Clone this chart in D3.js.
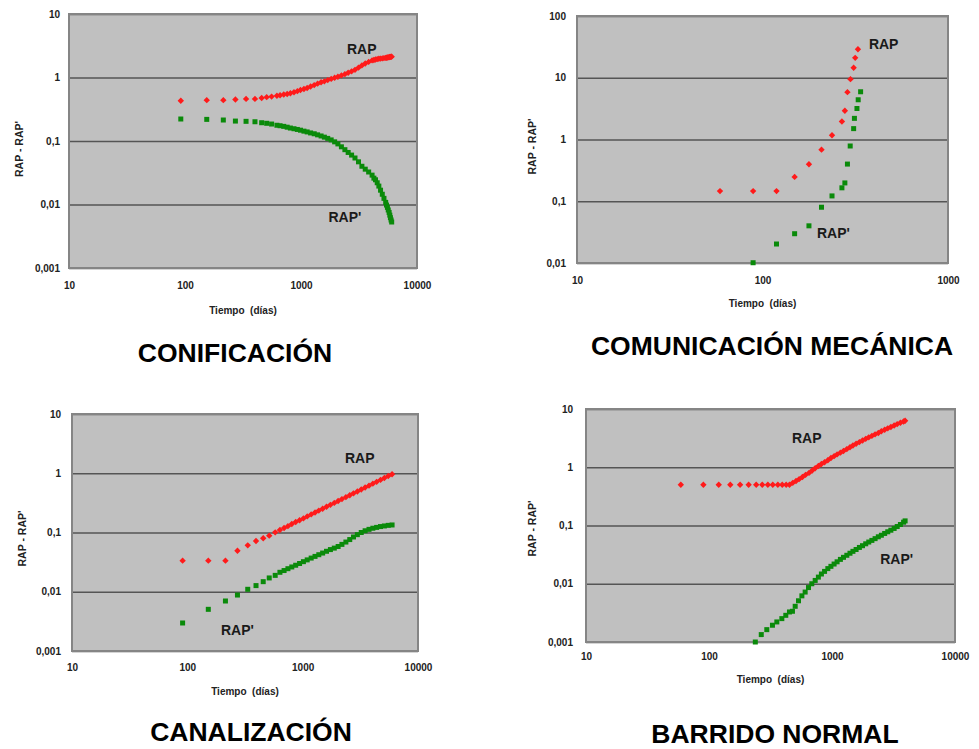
<!DOCTYPE html>
<html>
<head>
<meta charset="utf-8">
<script src="https://cdn.jsdelivr.net/npm/d3@7"></script>
<style>
  body { margin: 0; background: #ffffff; }
  svg { display: block; font-family: "Liberation Sans", Arial, Helvetica, sans-serif; }
</style>
</head>
<body>
<svg id="chart" width="979" height="749"></svg>
<script>
// ---- Axis ticks ----
const xTicksWide = [10, 100, 1000, 10000];
const xTicksNarrow = [10, 100, 1000];
const xTickLabelsWide = ["10", "100", "1000", "10000"];
const xTickLabelsNarrow = ["10", "100", "1000"];
const yTicksLow = [0.001, 0.01, 0.1, 1, 10];
const yTickLabelsLow = ["0,001", "0,01", "0,1", "1", "10"];
const yTicksHigh = [0.01, 0.1, 1, 10, 100];
const yTickLabelsHigh = ["0,01", "0,1", "1", "10", "100"];

const panelTitles = ["CONIFICACIÓN", "COMUNICACIÓN MECÁNICA", "CANALIZACIÓN", "BARRIDO NORMAL"];
const xAxisTitle = "Tiempo  (días)";
const yAxisTitle = "RAP - RAP'";
const seriesNames = ["RAP", "RAP'"];

// ---- Conificación ----
const conifTime = [92, 154, 214, 272, 336, 401, 458, 506, 558,
  620, 660, 710, 760, 810, 870, 930, 990, 1060, 1130,
  1210, 1300, 1390, 1490, 1590, 1700, 1820, 1950, 2080, 2230,
  2390, 2550, 2730, 2920, 3130, 3350, 3580, 3830,
  4100, 4250, 4390, 4540, 4690, 4850, 5020, 5190, 5370, 5460,
  5560, 5650, 5750, 5830, 5900, 5980, 6050];
const conifRap = [0.43, 0.44, 0.44, 0.45, 0.46, 0.46, 0.475, 0.49, 0.50,
  0.515, 0.525, 0.54, 0.55, 0.565, 0.585, 0.61, 0.635, 0.66, 0.685,
  0.72, 0.76, 0.80, 0.84, 0.87, 0.91, 0.95, 0.99, 1.03, 1.08,
  1.13, 1.19, 1.25, 1.32, 1.43, 1.55, 1.66, 1.76,
  1.86, 1.89, 1.92, 1.95, 1.97, 1.985, 2.00, 2.02, 2.04, 2.05,
  2.065, 2.075, 2.09, 2.10, 2.11, 2.12, 2.13];
const conifRapPrime = [0.222, 0.219, 0.214, 0.206, 0.204, 0.201, 0.194, 0.19, 0.185,
  0.177, 0.174, 0.170, 0.165, 0.160, 0.156, 0.152, 0.148, 0.143, 0.139,
  0.134, 0.130, 0.125, 0.120, 0.115, 0.110, 0.104, 0.097, 0.090, 0.081,
  0.073, 0.066, 0.060, 0.054, 0.047, 0.040, 0.036, 0.0325,
  0.029, 0.026, 0.0245, 0.022, 0.0195, 0.0168, 0.0145, 0.0125, 0.0108, 0.0098,
  0.0090, 0.0082, 0.0075, 0.0068, 0.0062, 0.0057, 0.0053];

// ---- Comunicación mecánica ----
const mecRapTime = [59, 89, 119, 149, 178, 208, 237, 268, 278, 287, 298, 310, 316, 327];
const mecRap = [0.146, 0.146, 0.146, 0.248, 0.397, 0.685, 1.17, 1.96, 2.92, 5.85, 9.5, 14.5, 21, 29];
const mecPrimeTime = [89, 119, 149, 178, 208, 237, 268, 278, 287, 297, 310, 313, 323, 328, 338];
const mecRapPrime = [0.0101, 0.0203, 0.0298, 0.040, 0.080, 0.122, 0.165, 0.198, 0.40, 0.785, 1.50, 2.20, 3.18, 4.40, 5.93];

// ---- Canalización ----
const canalTime = [91, 152, 214, 272, 334, 394, 455, 513, 578,
  635, 690, 745, 805, 870, 940, 1015, 1095, 1185, 1280,
  1380, 1490, 1610, 1740, 1880, 2030, 2190, 2370, 2560, 2760,
  2980, 3220, 3480, 3760, 4060, 4380, 4730, 5110, 5520, 5960];
const canalRap = [0.0335, 0.0335, 0.0335, 0.0493, 0.0607, 0.072, 0.0798, 0.0885, 0.1007,
  0.110, 0.119, 0.128, 0.139, 0.150, 0.161, 0.173, 0.187, 0.202, 0.217,
  0.234, 0.252, 0.272, 0.293, 0.316, 0.340, 0.366, 0.395, 0.426, 0.458,
  0.493, 0.532, 0.574, 0.618, 0.667, 0.716, 0.773, 0.832, 0.897, 0.96];
const canalRapPrime = [0.00297, 0.00505, 0.00698, 0.0088, 0.011, 0.0127, 0.0148, 0.0171, 0.0189,
  0.0213, 0.0228, 0.0245, 0.0262, 0.0280, 0.0300, 0.0322, 0.0345, 0.0370, 0.0395,
  0.0422, 0.0450, 0.0482, 0.0515, 0.0545, 0.058, 0.063, 0.069, 0.076, 0.084,
  0.092, 0.100, 0.107, 0.113, 0.118, 0.122, 0.126, 0.129, 0.132, 0.134];

// ---- Barrido normal ----
const barrRapTime = [59, 90, 120, 149, 179, 210, 242, 271, 301, 330, 363, 394, 424, 451,
  480, 510, 540, 575, 610, 650, 690, 730, 775, 820,
  870, 925, 980, 1040, 1100, 1170, 1240, 1320, 1400, 1480,
  1570, 1670, 1770, 1880, 1990, 2110, 2240, 2380, 2520, 2680,
  2840, 3010, 3200, 3390, 3600, 3820, 3930];
const barrRap = [0.5, 0.5, 0.5, 0.5, 0.5, 0.5, 0.5, 0.5, 0.5, 0.5, 0.5, 0.5, 0.5, 0.5,
  0.54, 0.58, 0.625, 0.68, 0.74, 0.80, 0.88, 0.96, 1.05, 1.14,
  1.22, 1.32, 1.44, 1.55, 1.66, 1.78, 1.90, 2.05, 2.20, 2.36,
  2.53, 2.70, 2.88, 3.07, 3.26, 3.45, 3.67, 3.88, 4.15, 4.40,
  4.65, 4.92, 5.20, 5.50, 5.80, 6.10, 6.30];
const barrPrimeTime = [238, 266, 295, 328, 356, 391, 421, 451, 477, 502, 534, 569, 605, 644,
  685, 730, 775, 820, 870, 925, 980, 1040, 1100, 1170,
  1240, 1320, 1400, 1480, 1570, 1670, 1770, 1880, 1990, 2110,
  2240, 2380, 2520, 2680, 2840, 3010, 3200, 3390, 3600, 3820, 3930];
const barrRapPrime = [0.001, 0.00134, 0.00163, 0.00194, 0.00221, 0.00252, 0.00287, 0.00328, 0.00337, 0.0041, 0.0051, 0.0062, 0.0072, 0.0086,
  0.0100, 0.0114, 0.0130, 0.0147, 0.0163, 0.0182, 0.0199, 0.0218, 0.0238, 0.0262,
  0.0284, 0.0308, 0.0334, 0.0360, 0.0387, 0.0420, 0.0450, 0.0485, 0.0520, 0.0555,
  0.0595, 0.0640, 0.0680, 0.0730, 0.0780, 0.0830, 0.0890, 0.0960, 0.104, 0.114, 0.120];

// Series label anchors, in data units [time, value]
const conifLabels = [[3336, 2.78], [2393, 0.0063]];
const mecLabels = [[450, 35.7], [241, 0.0305]];
const canalLabels = [[3126, 1.79], [272, 0.00226]];
const barrLabels = [[623, 3.21], [3358, 0.0264]];

// ---- Layout of the four panels ----
const panels = [
  { box: { left: 69, right: 417, top: 14, bottom: 268 }, xd: [10, 10000], yd: [0.001, 10],
    xt: xTicksWide, xl: xTickLabelsWide, yt: yTicksLow, yl: yTickLabelsLow,
    rap: [conifTime, conifRap], prime: [conifTime, conifRapPrime], labels: conifLabels,
    title: { text: panelTitles[0], x: 235, y: 362 },
    yPad: 9, xLabDy: 19, xTitleDy: 42, yTitleX: 19, yTitleDy: 8 },
  { box: { left: 577, right: 948, top: 16, bottom: 263 }, xd: [10, 1000], yd: [0.01, 100],
    xt: xTicksNarrow, xl: xTickLabelsNarrow, yt: yTicksHigh, yl: yTickLabelsHigh,
    rap: [mecRapTime, mecRap], prime: [mecPrimeTime, mecRapPrime], labels: mecLabels,
    title: { text: panelTitles[1], x: 772, y: 355 },
    yPad: 11, xLabDy: 19, xTitleDy: 40, yTitleX: 532, yTitleDy: 7 },
  { box: { left: 72, right: 418, top: 414, bottom: 651 }, xd: [10, 10000], yd: [0.001, 10],
    xt: xTicksWide, xl: xTickLabelsWide, yt: yTicksLow, yl: yTickLabelsLow,
    rap: [canalTime, canalRap], prime: [canalTime, canalRapPrime], labels: canalLabels,
    title: { text: panelTitles[2], x: 251, y: 741 },
    yPad: 11, xLabDy: 18, xTitleDy: 40, yTitleX: 22, yTitleDy: 6 },
  { box: { left: 586, right: 955, top: 409, bottom: 642 }, xd: [10, 10000], yd: [0.001, 10],
    xt: xTicksWide, xl: xTickLabelsWide, yt: yTicksLow, yl: yTickLabelsLow,
    rap: [barrRapTime, barrRap], prime: [barrPrimeTime, barrRapPrime], labels: barrLabels,
    title: { text: panelTitles[3], x: 775, y: 743 },
    yPad: 13, xLabDy: 16, xTitleDy: 37, yTitleX: 532, yTitleDy: 3 }
];

const svg = d3.select("#chart");
const rapSymbol = d3.symbol().type(d3.symbolDiamond2).size(26);
const primeSymbol = d3.symbol().type(d3.symbolSquare).size(25);

panels.forEach(p => {
  const b = p.box;
  const w = b.right - b.left, h = b.bottom - b.top;
  const x = d3.scaleLog().domain(p.xd).range([b.left, b.right]);
  const y = d3.scaleLog().domain(p.yd).range([b.bottom, b.top]);
  const g = svg.append("g");

  // plot background
  g.append("rect").attr("x", b.left).attr("y", b.top).attr("width", w).attr("height", h)
    .attr("fill", "#c0c0c0");

  // horizontal grid lines with y tick labels
  const yAxis = g.append("g").attr("transform", `translate(${b.left},0)`)
    .call(d3.axisLeft(y).tickValues(p.yt).tickSize(-w).tickPadding(p.yPad)
      .tickFormat((d, i) => p.yl[i]));
  yAxis.select(".domain").remove();
  yAxis.selectAll("line").attr("stroke", "#555555").attr("stroke-width", 1.6);
  yAxis.selectAll("text").attr("fill", "#222").attr("font-size", 10).attr("font-weight", "bold");

  // x tick labels (no tick marks)
  const xAxis = g.append("g").attr("transform", `translate(0,${b.bottom})`)
    .call(d3.axisBottom(x).tickValues(p.xt).tickSize(0).tickPadding(p.xLabDy - 5)
      .tickFormat((d, i) => p.xl[i]));
  xAxis.select(".domain").remove();
  xAxis.selectAll("text").attr("fill", "#222").attr("font-size", 10).attr("font-weight", "bold");

  // plot frame
  g.append("rect").attr("x", b.left).attr("y", b.top).attr("width", w).attr("height", h)
    .attr("fill", "none").attr("stroke", "#858585").attr("stroke-width", 2);

  // axis titles
  g.append("text").attr("x", (b.left + b.right) / 2).attr("y", b.bottom + p.xTitleDy)
    .attr("text-anchor", "middle").attr("dominant-baseline", "central")
    .attr("font-size", 10).attr("font-weight", "bold").attr("fill", "#222")
    .style("white-space", "pre").text(xAxisTitle);
  g.append("text")
    .attr("transform", `translate(${p.yTitleX},${(b.top + b.bottom) / 2 + p.yTitleDy}) rotate(-90)`)
    .attr("text-anchor", "middle").attr("dominant-baseline", "central")
    .attr("font-size", 10.5).attr("font-weight", "bold").attr("fill", "#222").text(yAxisTitle);

  // RAP' (green squares)
  const primePts = p.prime[0].map((t, i) => [t, p.prime[1][i]]);
  g.append("g").selectAll("path").data(primePts).join("path")
    .attr("transform", d => `translate(${x(d[0])},${y(d[1])})`)
    .attr("d", primeSymbol).attr("fill", "#0a8a0a");

  // RAP (red diamonds)
  const rapPts = p.rap[0].map((t, i) => [t, p.rap[1][i]]);
  g.append("g").selectAll("path").data(rapPts).join("path")
    .attr("transform", d => `translate(${x(d[0])},${y(d[1])})`)
    .attr("d", rapSymbol).attr("fill", "#ff1a1a");

  // series labels
  p.labels.forEach((lab, i) => {
    g.append("text").attr("x", x(lab[0])).attr("y", y(lab[1]))
      .attr("text-anchor", "middle").attr("dominant-baseline", "central")
      .attr("font-size", 14).attr("font-weight", "bold").attr("fill", "#1a1a1a")
      .text(seriesNames[i]);
  });

  // panel caption
  svg.append("text").attr("x", p.title.x).attr("y", p.title.y)
    .attr("text-anchor", "middle").attr("font-size", 26.5).attr("font-weight", "bold")
    .attr("fill", "#000").text(p.title.text);
});
</script>
</body>
</html>
